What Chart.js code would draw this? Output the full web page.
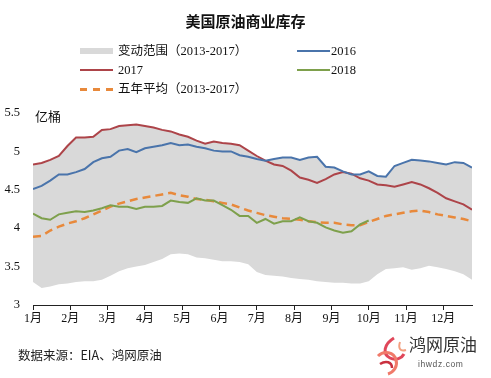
<!DOCTYPE html>
<html>
<head>
<meta charset="utf-8">
<script src="https://cdn.jsdelivr.net/npm/chart.js@4/dist/chart.umd.min.js"></script>
<style>
  html, body { margin: 0; padding: 0; background: #fff; }
  #wrap { position: relative; width: 491px; height: 378px; overflow: hidden; background: #fff; }
  #c { position: absolute; left: 0; top: 0; }
  .t { position: absolute; white-space: nowrap; color: #111; transform: translateY(-50%); line-height: 1; }
  .serif { font-family: "Liberation Serif", "Noto Sans CJK SC", serif; font-size: 12.5px; }
  .sw { position: absolute; }
</style>
</head>
<body>
<div id="wrap">
  <canvas id="c" width="491" height="378"></canvas>
  <div class="t" style="left:0;width:491px;text-align:center;top:20px;font-family:'Noto Sans CJK SC';font-weight:bold;font-size:15px;">美国原油商业库存</div>

  <div class="sw" style="left:80px;top:48px;width:33px;height:6px;background:#d9d9d9;"></div>
  <div class="t serif" style="left:118px;top:51px;">变动范围（2013-2017）</div>
  <div class="sw" style="left:297px;top:50px;width:33px;height:2px;background:#4a74ab;"></div>
  <div class="t serif" style="left:331px;top:51px;">2016</div>

  <div class="sw" style="left:80px;top:69px;width:33px;height:2px;background:#ad4449;"></div>
  <div class="t serif" style="left:118px;top:70px;">2017</div>
  <div class="sw" style="left:297px;top:69px;width:33px;height:2px;background:#7ea04c;"></div>
  <div class="t serif" style="left:331px;top:70px;">2018</div>

  <div class="sw" style="left:80px;top:88px;width:7px;height:2.5px;background:#e8893b;"></div>
  <div class="sw" style="left:93px;top:88px;width:7px;height:2.5px;background:#e8893b;"></div>
  <div class="sw" style="left:106px;top:88px;width:7px;height:2.5px;background:#e8893b;"></div>
  <div class="t serif" style="left:118px;top:89px;">五年平均（2013-2017）</div>

  <div class="t" style="left:35px;top:115px;font-family:'Noto Sans CJK SC';font-size:13px;">亿桶</div>

  <div class="t" style="left:18px;top:355px;font-family:'Noto Sans CJK SC';font-size:12.5px;color:#222;">数据来源：EIA、鸿网原油</div>

  <svg class="sw" style="left:374px;top:336px;" width="34" height="40" viewBox="0 0 34 40">
    <path d="M20 2 C10 8, 8 18, 16 22 C22 25, 28 22, 30 18" stroke="#e0475a" stroke-width="3" fill="none"/>
    <path d="M4 20 C10 14, 20 16, 22 24 C24 30, 20 36, 14 38" stroke="#f07a6a" stroke-width="3" fill="none"/>
    <path d="M6 28 C12 24, 18 26, 18 32" stroke="#c9303f" stroke-width="2.5" fill="none"/>
    <path d="M26 6 C24 12, 26 16, 32 14" stroke="#f3a080" stroke-width="2" fill="none"/>
  </svg>
  <div class="t" style="left:409px;top:345px;font-family:'Liberation Serif','Noto Sans CJK SC';font-size:17px;color:#333;">鸿网原油</div>
  <div class="t" style="left:418px;top:364px;font-family:'Liberation Sans',sans-serif;font-size:8.5px;color:#555;letter-spacing:0.6px;">ihwdz.com</div>
</div>
<script>
// ---- data (weekly, 52 weeks) ----
const monthLabels = ["1月","2月","3月","4月","5月","6月","7月","8月","9月","10月","11月","12月"];
const weeks = Array.from({length: 52}, (_, i) => i);

const s2016 = [4.51,4.55,4.62,4.70,4.70,4.73,4.77,4.86,4.91,4.93,5.01,5.03,4.99,5.04,5.06,5.08,5.11,
  5.08,5.09,5.06,5.04,5.01,5.00,5.00,4.95,4.93,4.90,4.88,4.90,4.92,4.92,4.89,4.92,4.93,
  4.80,4.79,4.74,4.70,4.70,4.74,4.68,4.67,4.81,4.85,4.89,4.88,4.87,4.85,4.83,4.86,4.85,4.79];

const s2017 = [4.83,4.85,4.89,4.94,5.07,5.18,5.18,5.19,5.28,5.29,5.33,5.34,5.35,5.33,5.31,5.28,5.26,
  5.22,5.19,5.14,5.10,5.13,5.11,5.10,5.08,5.01,4.94,4.88,4.83,4.81,4.75,4.66,4.63,4.59,
  4.64,4.70,4.73,4.71,4.65,4.62,4.57,4.56,4.54,4.57,4.60,4.57,4.52,4.46,4.39,4.35,4.31,4.24];

const s2018 = [4.19,4.13,4.11,4.18,4.20,4.22,4.21,4.23,4.26,4.30,4.28,4.28,4.25,4.28,4.28,4.29,4.36,
  4.34,4.33,4.39,4.36,4.36,4.30,4.24,4.16,4.16,4.07,4.12,4.06,4.09,4.09,4.14,4.09,4.07,
  4.01,3.97,3.94,3.96,4.05,4.10,null,null,null,null,null,null,null,null,null,null,null,null];

const avg5 = [3.89,3.90,3.97,4.02,4.06,4.09,4.13,4.18,4.23,4.28,4.32,4.35,4.38,4.40,4.42,4.44,4.46,
  4.43,4.41,4.38,4.37,4.35,4.33,4.31,4.27,4.23,4.20,4.17,4.15,4.13,4.12,4.11,4.09,4.08,
  4.07,4.07,4.05,4.04,4.04,4.08,4.12,4.16,4.18,4.20,4.22,4.23,4.21,4.18,4.16,4.14,4.12,4.09];

const rangeMax = [4.83,4.85,4.89,4.94,5.07,5.18,5.18,5.19,5.28,5.29,5.33,5.34,5.35,5.33,5.31,5.28,5.26,
  5.22,5.19,5.14,5.10,5.13,5.11,5.10,5.08,5.01,4.94,4.88,4.90,4.92,4.92,4.89,4.92,4.93,
  4.80,4.79,4.74,4.71,4.70,4.74,4.68,4.67,4.81,4.85,4.89,4.88,4.87,4.85,4.83,4.86,4.85,4.79];

const rangeMin = [3.30,3.22,3.24,3.27,3.28,3.30,3.31,3.31,3.33,3.38,3.44,3.48,3.50,3.52,3.56,3.60,3.66,
  3.67,3.66,3.62,3.61,3.59,3.57,3.57,3.56,3.53,3.43,3.39,3.38,3.37,3.35,3.34,3.33,3.31,
  3.30,3.29,3.29,3.28,3.28,3.31,3.40,3.47,3.48,3.49,3.46,3.48,3.51,3.49,3.47,3.44,3.40,3.33];

const yTicks = [3, 3.5, 4, 4.5, 5, 5.5];

const pts = arr => weeks.map((w, i) => ({x: w, y: arr[i]}));

const line = (label, arr, color, extra) => Object.assign({
  label, data: pts(arr), borderColor: color, borderWidth: 2, pointRadius: 0,
  tension: 0, fill: false, spanGaps: false, order: 1
}, extra || {});

new Chart(document.getElementById('c'), {
  type: 'line',
  data: {
    datasets: [
      line('2016', s2016, '#4a74ab'),
      line('2017', s2017, '#ad4449'),
      line('2018', s2018, '#7ea04c'),
      line('五年平均（2013-2017）', avg5, '#e8893b', {borderDash: [8, 5], borderWidth: 2.5, borderCapStyle: 'butt'}),
      { label: '变动范围（2013-2017）', data: pts(rangeMax), borderWidth: 0, pointRadius: 0,
        backgroundColor: '#d9d9d9', fill: '+1', order: 10, tension: 0 },
      { label: 'min', data: pts(rangeMin), borderWidth: 0, pointRadius: 0,
        backgroundColor: '#d9d9d9', fill: false, order: 11, tension: 0 }
    ]
  },
  options: {
    responsive: false,
    animation: false,
    devicePixelRatio: 1,
    layout: { padding: { left: 0, right: 19, top: 113, bottom: 53 } },
    plugins: { legend: { display: false }, title: { display: false }, tooltip: { enabled: false } },
    scales: {
      x: {
        type: 'linear', min: 0, max: 51,
        afterBuildTicks: s => { s.ticks = monthLabels.map((l, k) => ({ value: k * 52 / 12 })); },
        afterFit: s => { s.height = 20; },
        ticks: {
          autoSkip: false, maxRotation: 0, minRotation: 0, padding: 2,
          color: '#111', font: { family: 'Liberation Serif, Noto Sans CJK SC', size: 12 },
          callback: (v, i) => monthLabels[i]
        },
        grid: { drawOnChartArea: false, drawTicks: true, tickLength: 5, color: '#222', lineWidth: 1 },
        border: { display: true, color: '#222', width: 1 }
      },
      y: {
        min: 3, max: 5.5,
        afterBuildTicks: s => { s.ticks = yTicks.map(v => ({ value: v })); },
        afterFit: s => { s.width = 33; },
        ticks: {
          padding: 13, color: '#111', font: { family: 'Liberation Serif', size: 12.5 },
          callback: v => String(v)
        },
        grid: { display: false, drawTicks: false },
        border: { display: false }
      }
    }
  }
});
</script>
</body>
</html>
